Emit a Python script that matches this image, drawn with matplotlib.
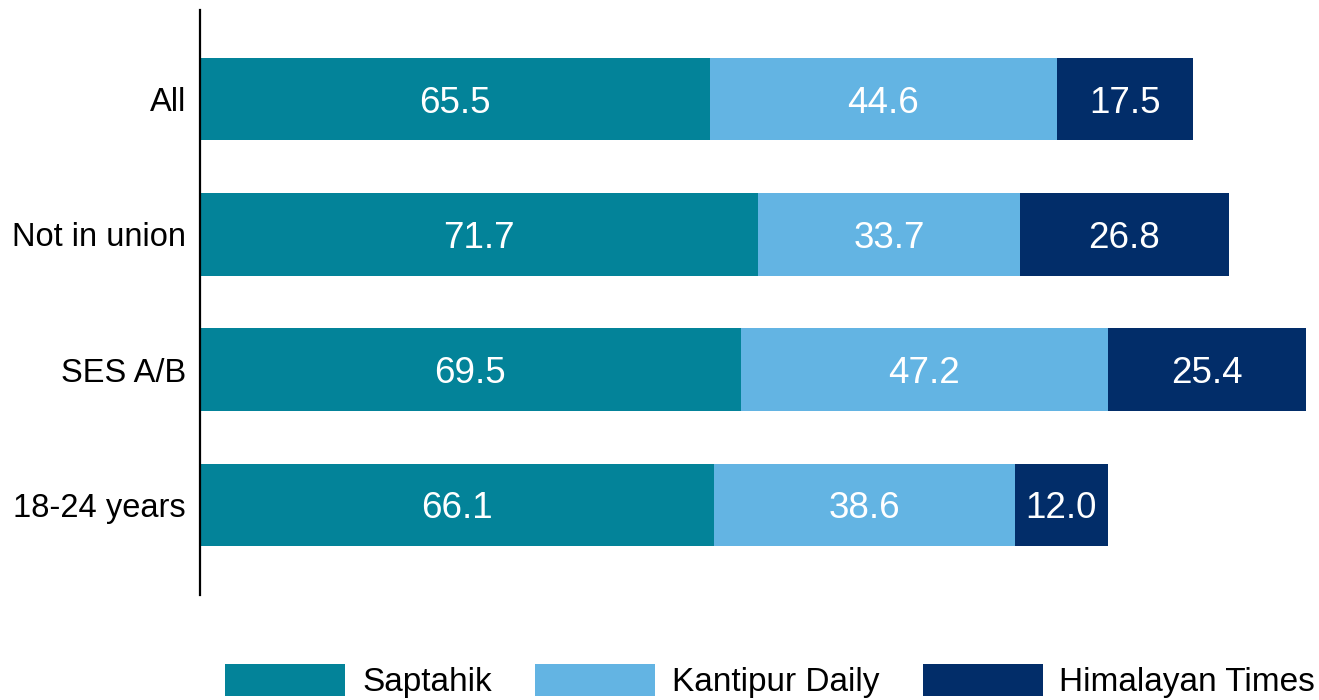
import matplotlib.pyplot as plt
import numpy as np

plt.rcParams["font.family"] = ["Liberation Sans", "DejaVu Sans"]

categories = ["All", "Not in union", "SES A/B", "18-24 years"]
series_names = ["Saptahik", "Kantipur Daily", "Himalayan Times"]
saptahik = [65.5, 71.7, 69.5, 66.1]
kantipur = [44.6, 33.7, 47.2, 38.6]
himalayan = [17.5, 26.8, 25.4, 12.0]
colors = ["#038399", "#63B4E3", "#022D69"]

fig = plt.figure(figsize=(13.19, 7.0), dpi=100)
ax = fig.add_axes([200 / 1319, 1 - 595 / 700, 1 - 200 / 1319, 585 / 700])

y = np.arange(len(categories))
left = np.zeros(len(categories))
handles = []
for name, vals, col in zip(series_names, [saptahik, kantipur, himalayan], colors):
    vals = np.array(vals)
    bars = ax.barh(y, vals, left=left, height=0.61, color=col, label=name, edgecolor="none")
    handles.append(bars)
    for yi, l, v in zip(y, left, vals):
        ax.text(l + v / 2, yi, f"{v:.1f}", ha="center", va="center_baseline",
                color="white", fontsize=26.5)
    left = left + vals

ax.set_xlim(0, 143.8)
ax.set_ylim(3.667, -0.66)
ax.set_yticks(y)
ax.set_yticklabels(categories, fontsize=23.5)
ax.tick_params(axis="y", length=0, pad=10)
ax.set_xticks([])
for s in ["top", "right", "bottom"]:
    ax.spines[s].set_visible(False)
ax.spines["left"].set_linewidth(1.6)
ax.spines["left"].set_color("black")

fig.legend(handles=handles, labels=series_names, loc="center", bbox_to_anchor=(0.584, 0.027),
           ncol=3, frameon=False, fontsize=24, handlelength=3.6, handleheight=1.1,
           handletextpad=0.5, columnspacing=1.3)

fig.savefig("out.png", dpi=100)
